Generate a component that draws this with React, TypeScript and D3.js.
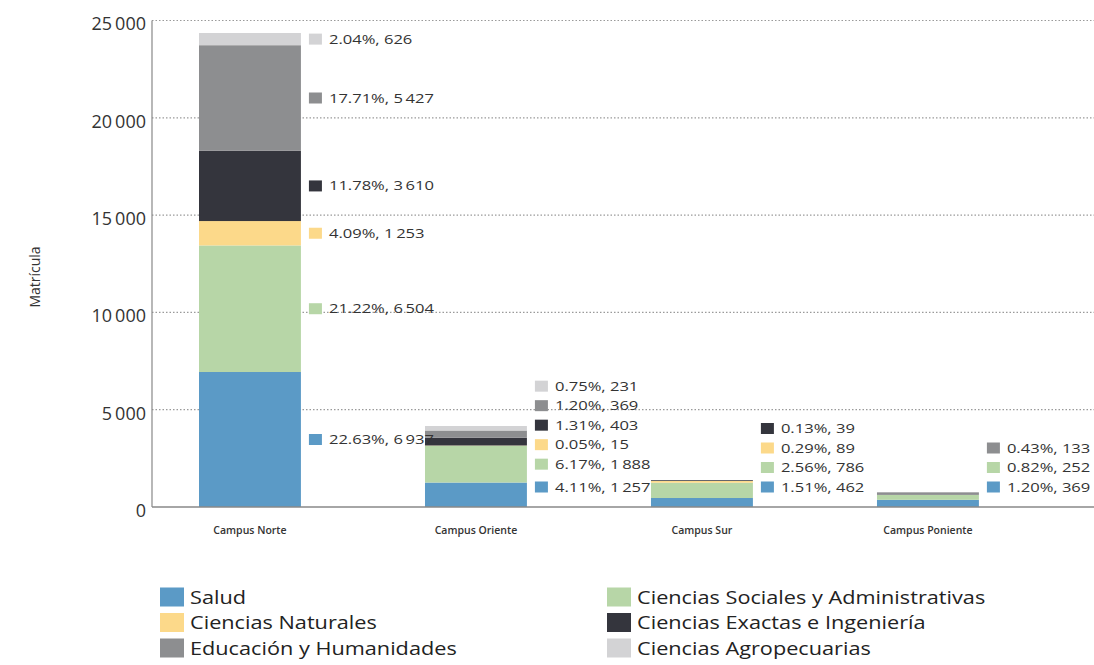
import React from "react";
import * as d3 from "d3";

const campuses = ["Campus Norte", "Campus Oriente", "Campus Sur", "Campus Poniente"];
const categories = [
  "Salud",
  "Ciencias Sociales y Administrativas",
  "Ciencias Naturales",
  "Ciencias Exactas e Ingeniería",
  "Educación y Humanidades",
  "Ciencias Agropecuarias",
];
// values per category, one per campus
const salud = [6937, 1257, 462, 369];
const sociales = [6504, 1888, 786, 252];
const naturales = [1253, 15, 89, 0];
const exactas = [3610, 403, 39, 0];
const educacion = [5427, 369, 0, 133];
const agropecuarias = [626, 231, 0, 0];
// percentages as printed in the labels
const saludPct = [22.63, 4.11, 1.51, 1.2];
const socialesPct = [21.22, 6.17, 2.56, 0.82];
const naturalesPct = [4.09, 0.05, 0.29, 0];
const exactasPct = [11.78, 1.31, 0.13, 0];
const educacionPct = [17.71, 1.2, 0, 0.43];
const agropecuariasPct = [2.04, 0.75, 0, 0];
const yTicks = [0, 5000, 10000, 15000, 20000, 25000];
const colors = ["#5b9ac6", "#b7d6a7", "#fcd98a", "#34353d", "#8d8e90", "#d3d3d5"];
const legendOrder = [0, 1, 2, 3, 4, 5];

const series = [salud, sociales, naturales, exactas, educacion, agropecuarias];
const pcts = [saludPct, socialesPct, naturalesPct, exactasPct, educacionPct, agropecuariasPct];

const W = 1094;
const H = 665;
const FONT = "'Open Sans', 'Noto Sans', sans-serif";

const locale = d3.formatLocale({ decimal: ".", thousands: "\u2009", grouping: [3], currency: ["", ""] });
const fmtInt = locale.format(",d");
const fmtPct = d3.format(".2f");

export default function App() {
  const x = d3.scaleBand<string>().domain(campuses).range([153.8, 1024.1]).paddingInner(0.549).paddingOuter(0.2);
  const y = d3.scaleLinear().domain([0, 25000]).range([507, 20.5]);

  const rows = campuses.map((c, i) => {
    const o: any = { campus: c };
    categories.forEach((k, j) => (o[k] = series[j][i]));
    return o;
  });
  const stack = d3.stack<any>().keys(categories)(rows);

  const axisX0 = 152;
  const bw = x.bandwidth();

  const labels: any[] = [];
  campuses.forEach((c, i) => {
    let prev = Infinity;
    stack.forEach((layer, j) => {
      const v = series[j][i];
      if (!v) return;
      const d = layer[i];
      const center = y((d[0] + d[1]) / 2);
      const ly = Math.min(center, 487, prev - 19.5);
      prev = ly;
      labels.push({ campus: c, j, v, p: pcts[j][i], ly });
    });
  });

  return (
    <svg width={W} height={H} style={{ position: "absolute", left: 0, top: 0, background: "#fff" }}>
      {yTicks.filter((t) => t > 0).map((t) => (
        <line key={t} x1={axisX0} x2={W} y1={y(t)} y2={y(t)} stroke="#9a9a9a" strokeWidth={1.2} strokeDasharray="1.5,2" />
      ))}
      {stack.map((layer, j) => (
        <g key={j} fill={colors[j]}>
          {layer.map((d, i) =>
            d[1] - d[0] > 0 ? (
              <rect key={i} x={x(campuses[i])} width={bw} y={y(d[1])} height={y(d[0]) - y(d[1])} />
            ) : null
          )}
        </g>
      ))}
      <line x1={axisX0} x2={axisX0} y1={y(25000)} y2={y(0)} stroke="#888" strokeWidth={1.2} />
      <line x1={axisX0} x2={W} y1={y(0)} y2={y(0)} stroke="#888" strokeWidth={1.5} />
      {yTicks.map((t) => (
        <text key={t} x={axisX0 - 6} y={y(t) + 5} textAnchor="end" dominantBaseline="middle" fontFamily={FONT} fontSize={18} fill="#333">
          {fmtInt(t)}
        </text>
      ))}
      <text transform={`translate(36,277) rotate(-90)`} textAnchor="middle" dominantBaseline="middle" fontFamily={FONT} fontSize={14} fill="#333">
        Matrícula
      </text>
      {campuses.map((c) => (
        <text key={c} x={(x(c) as number) + bw / 2} y={531} textAnchor="middle" dominantBaseline="middle" fontFamily={FONT} fontSize={10.5} fontWeight={600} fill="#333">
          {c}
        </text>
      ))}
      {labels.map((l, k) => {
        const x0 = (x(l.campus) as number) + bw;
        return (
          <g key={k}>
            <rect x={x0 + 8} y={l.ly - 5.5} width={13} height={11} fill={colors[l.j]} />
            <text transform={`translate(${x0 + 28},${l.ly}) scale(1.38,1)`} dominantBaseline="central" fontFamily={FONT} fontSize={12} fill="#333">
              {`${fmtPct(l.p)}%, ${fmtInt(l.v)}`}
            </text>
          </g>
        );
      })}
      {legendOrder.map((j) => {
        const col = j % 2;
        const row = Math.floor(j / 2);
        const lx = col === 0 ? 160 : 607;
        const ly = 597 + row * 25.5;
        return (
          <g key={j}>
            <rect x={lx} y={ly - 9.5} width={24} height={19} fill={colors[j]} />
            <text transform={`translate(${lx + 30},${ly}) scale(1.24,1)`} dominantBaseline="central" fontFamily={FONT} fontSize={17.5} fontWeight={500} fill="#222">
              {categories[j]}
            </text>
          </g>
        );
      })}
    </svg>
  );
}
